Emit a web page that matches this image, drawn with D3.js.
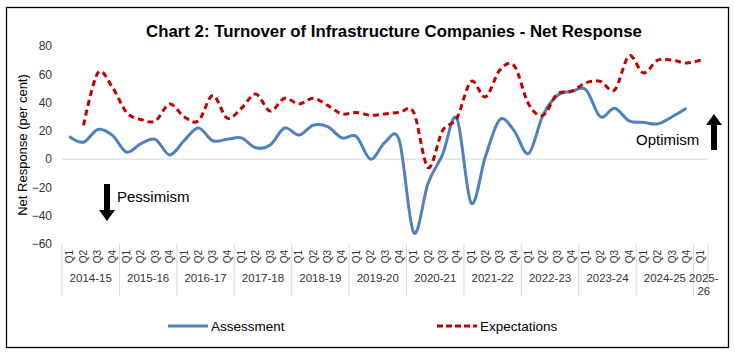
<!DOCTYPE html>
<html>
<head>
<meta charset="utf-8">
<script src="https://cdnjs.cloudflare.com/ajax/libs/d3/7.8.5/d3.min.js"></script>
<style>
  body { margin: 0; background: #fff; }
  svg { font-family: "Liberation Sans", Arial, sans-serif; }
  .tick text { fill: #333; font-size: 12px; }
</style>
</head>
<body>
<div id="chart"></div>
<script>

var years = ["2014-15","2015-16","2016-17","2017-18","2018-19","2019-20",
             "2020-21","2021-22","2022-23","2023-24","2024-25","2025-26"];
var quarters = ["Q1","Q2","Q3","Q4"];

// net response, one value per quarter from 2014-15 Q1
var assessment = [16, 12, 21, 17, 5, 11, 14, 3, 13, 22, 13, 14, 15, 8, 10, 22,
                  17, 24, 23, 15, 16, 0, 12, 13, -52, -17, 3, 29, -31, 2,
                  28, 20, 4, 31, 45, 48, 49, 30, 36, 27, 26, 25, 30, 36];
// expectations start at 2014-15 Q2
var expectations = [null, 24, 61, 51, 33, 28, 27, 39, 30, 27, 45, 29, 36, 46, 34,
                    43, 39, 43, 38, 32, 33, 31, 32, 33, 33, -6, 20, 29, 55, 44,
                    63, 66, 39, 31, 46, 48, 54, 55, 49, 73, 61, 70, 70, 68, 70];

var yTicks = [-60, -40, -20, 0, 20, 40, 60, 80];

var cats = [];
years.forEach(function (y) {
  var n = (y === "2025-26") ? 1 : 4;
  for (var q = 0; q < n; q++) { cats.push(y + " " + quarters[q]); }
});

var W = 735, H = 354;
var margin = { left: 62, right: 27, top: 46, bottom: 110 };
var width = 708 - margin.left;
var height = 244 - margin.top;

var svg = d3.select("#chart").append("svg")
  .attr("width", W)
  .attr("height", H);

svg.append("rect")
  .attr("x", 6.5).attr("y", 7.5)
  .attr("width", 722).attr("height", 340)
  .attr("fill", "#fff")
  .attr("stroke", "#000")
  .attr("stroke-width", 1.3);

svg.append("text")
  .attr("x", 394)
  .attr("y", 37)
  .attr("text-anchor", "middle")
  .style("font-size", "16.8px")
  .style("font-weight", "bold")
  .text("Chart 2: Turnover of Infrastructure Companies - Net Response");

var g = svg.append("g")
  .attr("transform", "translate(" + margin.left + "," + margin.top + ")");

var x = d3.scaleBand().domain(cats).range([0, width]);
var y = d3.scaleLinear().domain([-60, 80]).range([height, 0]);

// y axis (labels only)
var yAxis = d3.axisLeft(y).tickValues(yTicks).tickSize(0).tickPadding(10);
g.append("g").call(yAxis).call(function (s) { s.select(".domain").remove(); });

// zero line
g.append("line")
  .attr("x1", 0).attr("x2", width)
  .attr("y1", y(0)).attr("y2", y(0))
  .attr("stroke", "#d9d9d9")
  .attr("stroke-width", 1);

svg.append("text")
  .attr("transform", "translate(27," + (margin.top + height / 2) + ") rotate(-90)")
  .attr("text-anchor", "middle")
  .style("font-size", "13px")
  .text("Net Response (per cent)");

// category axis: quarter labels, year labels and separators
var ax = g.append("g").attr("transform", "translate(0," + height + ")");

ax.selectAll(".q")
  .data(cats).enter()
  .append("text")
  .attr("class", "q")
  .attr("transform", function (d) {
    return "translate(" + (x(d) + x.bandwidth() / 2 + 3.5) + ",6) rotate(-90)";
  })
  .attr("text-anchor", "end")
  .style("font-size", "10px")
  .style("fill", "#333")
  .text(function (d) { return d.split(" ")[1]; });

var yearStart = years.map(function (yr) {
  var first = cats.filter(function (c) { return c.indexOf(yr) === 0; });
  return { year: yr, x0: x(first[0]), x1: x(first[first.length - 1]) + x.bandwidth() };
});

ax.selectAll(".sep")
  .data([0].concat(yearStart.map(function (d) { return d.x1; })))
  .enter()
  .append("line")
  .attr("x1", function (d) { return d; })
  .attr("x2", function (d) { return d; })
  .attr("y1", 0)
  .attr("y2", 52)
  .attr("stroke", "#d9d9d9");

ax.selectAll(".yr")
  .data(yearStart).enter()
  .append("text")
  .attr("x", function (d) { return (d.x0 + d.x1) / 2; })
  .attr("y", 38)
  .attr("text-anchor", "middle")
  .style("font-size", "11.5px")
  .style("fill", "#333")
  .each(function (d) {
    var t = d3.select(this);
    if (d.year === "2025-26") {
      t.append("tspan").attr("x", (d.x0 + d.x1) / 2 + 3).text("2025-");
      t.append("tspan").attr("x", (d.x0 + d.x1) / 2 + 3).attr("dy", 13).text("26");
    } else {
      t.text(d.year);
    }
  });

// lines
var line = d3.line()
  .defined(function (d) { return d != null; })
  .x(function (d, i) { return x(cats[i]) + x.bandwidth() / 2; })
  .y(function (d) { return y(d); })
  .curve(d3.curveCatmullRom.alpha(0));

g.append("path")
  .datum(assessment)
  .attr("d", line)
  .attr("fill", "none")
  .attr("stroke", "#4f81bd")
  .attr("stroke-width", 3);

g.append("path")
  .datum(expectations)
  .attr("d", line)
  .attr("fill", "none")
  .attr("stroke", "#c00000")
  .attr("stroke-width", 3)
  .attr("stroke-dasharray", "6,4");

// annotations
function arrow(cx, tip, tail, up) {
  var hw = 8, head = 11, sw = 3;
  var base = up ? tip + head : tip - head;
  svg.append("path")
    .attr("d", "M" + (cx - sw) + "," + tail + "L" + (cx - sw) + "," + base +
               "L" + (cx - hw) + "," + base + "L" + cx + "," + tip +
               "L" + (cx + hw) + "," + base + "L" + (cx + sw) + "," + base +
               "L" + (cx + sw) + "," + tail + "Z")
    .attr("fill", "#000");
}
arrow(107, 221, 184, false);
arrow(714, 114, 150, true);

svg.append("text")
  .attr("x", 117).attr("y", 202)
  .style("font-size", "15px")
  .text("Pessimism");

svg.append("text")
  .attr("x", 636).attr("y", 145)
  .style("font-size", "15px")
  .text("Optimism");

// legend
var legend = [
  { name: "Assessment", x: 168, color: "#4f81bd", dash: null },
  { name: "Expectations", x: 437, color: "#c00000", dash: "6,3" }
];
var lg = svg.selectAll(".lg").data(legend).enter().append("g");
lg.append("line")
  .attr("x1", function (d) { return d.x; })
  .attr("x2", function (d) { return d.x + 40; })
  .attr("y1", 326).attr("y2", 326)
  .attr("stroke", function (d) { return d.color; })
  .attr("stroke-width", 3)
  .attr("stroke-dasharray", function (d) { return d.dash; });
lg.append("text")
  .attr("x", function (d) { return d.x + 43; })
  .attr("y", 331)
  .style("font-size", "13.5px")
  .text(function (d) { return d.name; });

</script>
</body>
</html>
